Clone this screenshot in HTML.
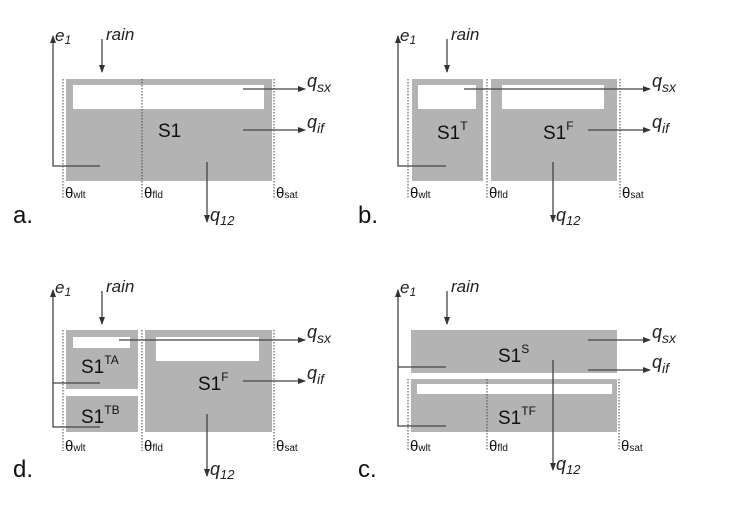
<!DOCTYPE html>
<html><head><meta charset="utf-8"><style>
html,body{margin:0;padding:0;background:#fff;}
svg{display:block;font-family:"Liberation Sans",Arial,sans-serif;}
.g{fill:#b3b3b3}
.w{fill:#fff}
.dot{stroke:#444;stroke-width:1;stroke-dasharray:1.5,1.5}
.ln{stroke:#444;stroke-width:1.3;fill:none}
.it{font-style:italic;fill:#222}
.t{fill:#111}
.th{font-size:15px}
.th tspan{font-size:10px}
</style></head><body>
<svg width="730" height="508" viewBox="0 0 730 508">
<defs><marker id="ah" markerWidth="8" markerHeight="6" refX="7" refY="3" orient="auto" markerUnits="userSpaceOnUse"><path d="M0,0 L8,3 L0,6z" fill="#333"/></marker></defs>

<g>
<rect class="g" x="66" y="79" width="206" height="102"/>
<rect class="w" x="73" y="85" width="191" height="24"/>
<line class="dot" x1="63" y1="79" x2="63" y2="198"/>
<line class="dot" x1="142" y1="79" x2="142" y2="198"/>
<line class="dot" x1="274" y1="79" x2="274" y2="198"/>
<polyline class="ln" points="100,166 53,166 53,36" marker-end="url(#ah)"/>
<line class="ln" x1="102" y1="39" x2="102" y2="72" marker-end="url(#ah)"/>
<line class="ln" x1="243" y1="89" x2="305" y2="89" marker-end="url(#ah)"/>
<line class="ln" x1="243" y1="130" x2="305" y2="130" marker-end="url(#ah)"/>
<line class="ln" x1="207" y1="162" x2="207" y2="222" marker-end="url(#ah)"/>
<text class="it" x="55" y="41" font-size="17">e<tspan font-size="12" dy="3">1</tspan></text>
<text class="it" x="106" y="40" font-size="17">rain</text>
<text class="it" x="307" y="87" font-size="18">q<tspan font-size="14" dy="5">sx</tspan></text>
<text class="it" x="307" y="128" font-size="18">q<tspan font-size="14" dy="5">if</tspan></text>
<text class="it" x="210" y="221" font-size="18">q<tspan font-size="13" dy="4">12</tspan></text>
<text class="t" x="158" y="137" font-size="19">S1</text>
<text class="t th" x="65" y="198">θ<tspan>wlt</tspan></text>
<text class="t th" x="144" y="198">θ<tspan>fld</tspan></text>
<text class="t th" x="276" y="198">θ<tspan>sat</tspan></text>
<text class="t" x="13" y="223" font-size="24">a.</text>
</g>

<g>
<rect class="g" x="412" y="79" width="71" height="102"/>
<rect class="w" x="418" y="85" width="58" height="24"/>
<rect class="g" x="491" y="79" width="126" height="102"/>
<rect class="w" x="502" y="85" width="102" height="24"/>
<line class="dot" x1="408" y1="79" x2="408" y2="198"/>
<line class="dot" x1="487" y1="79" x2="487" y2="198"/>
<line class="dot" x1="620" y1="79" x2="620" y2="198"/>
<polyline class="ln" points="446,166 398,166 398,36" marker-end="url(#ah)"/>
<line class="ln" x1="447" y1="39" x2="447" y2="72" marker-end="url(#ah)"/>
<line class="ln" x1="464" y1="89" x2="650" y2="89" marker-end="url(#ah)"/>
<line class="ln" x1="588" y1="130" x2="650" y2="130" marker-end="url(#ah)"/>
<line class="ln" x1="553" y1="162" x2="553" y2="222" marker-end="url(#ah)"/>
<text class="it" x="400" y="41" font-size="17">e<tspan font-size="12" dy="3">1</tspan></text>
<text class="it" x="451" y="40" font-size="17">rain</text>
<text class="it" x="652" y="87" font-size="18">q<tspan font-size="14" dy="5">sx</tspan></text>
<text class="it" x="652" y="128" font-size="18">q<tspan font-size="14" dy="5">if</tspan></text>
<text class="it" x="556" y="221" font-size="18">q<tspan font-size="13" dy="4">12</tspan></text>
<text class="t" x="437" y="139" font-size="19">S1<tspan font-size="12" dy="-9">T</tspan></text>
<text class="t" x="543" y="139" font-size="19">S1<tspan font-size="12" dy="-9">F</tspan></text>
<text class="t th" x="410" y="198">θ<tspan>wlt</tspan></text>
<text class="t th" x="489" y="198">θ<tspan>fld</tspan></text>
<text class="t th" x="622" y="198">θ<tspan>sat</tspan></text>
<text class="t" x="358" y="223" font-size="24">b.</text>
</g>

<g>
<rect class="g" x="66" y="330" width="72" height="59"/>
<rect class="w" x="73" y="337" width="57" height="11"/>
<rect class="g" x="66" y="396" width="72" height="36"/>
<rect class="g" x="145" y="330" width="127" height="102"/>
<rect class="w" x="156" y="337" width="103" height="24"/>
<line class="dot" x1="63" y1="330" x2="63" y2="451"/>
<line class="dot" x1="142" y1="330" x2="142" y2="451"/>
<line class="dot" x1="274" y1="330" x2="274" y2="451"/>
<polyline class="ln" points="100,427 53,427 53,290" marker-end="url(#ah)"/>
<line class="ln" x1="53" y1="383" x2="100" y2="383"/>
<line class="ln" x1="102" y1="291" x2="102" y2="324" marker-end="url(#ah)"/>
<line class="ln" x1="119" y1="340" x2="305" y2="340" marker-end="url(#ah)"/>
<line class="ln" x1="243" y1="381" x2="305" y2="381" marker-end="url(#ah)"/>
<line class="ln" x1="207" y1="414" x2="207" y2="476" marker-end="url(#ah)"/>
<text class="it" x="55" y="293" font-size="17">e<tspan font-size="12" dy="3">1</tspan></text>
<text class="it" x="106" y="292" font-size="17">rain</text>
<text class="it" x="307" y="338" font-size="18">q<tspan font-size="14" dy="5">sx</tspan></text>
<text class="it" x="307" y="379" font-size="18">q<tspan font-size="14" dy="5">if</tspan></text>
<text class="it" x="210" y="475" font-size="18">q<tspan font-size="13" dy="4">12</tspan></text>
<text class="t" x="81" y="373" font-size="19">S1<tspan font-size="12" dy="-9">TA</tspan></text>
<text class="t" x="81" y="423" font-size="19">S1<tspan font-size="12" dy="-9">TB</tspan></text>
<text class="t" x="198" y="390" font-size="19">S1<tspan font-size="12" dy="-9">F</tspan></text>
<text class="t th" x="65" y="451">θ<tspan>wlt</tspan></text>
<text class="t th" x="144" y="451">θ<tspan>fld</tspan></text>
<text class="t th" x="276" y="451">θ<tspan>sat</tspan></text>
<text class="t" x="13" y="477" font-size="24">d.</text>
</g>

<g>
<rect class="g" x="411" y="330" width="206" height="43"/>
<rect class="g" x="411" y="379" width="206" height="53"/>
<rect class="w" x="417" y="384" width="195" height="10"/>
<line class="dot" x1="408" y1="379" x2="408" y2="451"/>
<line class="dot" x1="487" y1="379" x2="487" y2="451"/>
<line class="dot" x1="619" y1="379" x2="619" y2="451"/>
<polyline class="ln" points="446,426 398,426 398,290" marker-end="url(#ah)"/>
<line class="ln" x1="398" y1="367" x2="446" y2="367"/>
<line class="ln" x1="447" y1="291" x2="447" y2="324" marker-end="url(#ah)"/>
<line class="ln" x1="588" y1="340" x2="650" y2="340" marker-end="url(#ah)"/>
<line class="ln" x1="588" y1="370" x2="650" y2="370" marker-end="url(#ah)"/>
<line class="ln" x1="553" y1="360" x2="553" y2="470" marker-end="url(#ah)"/>
<text class="it" x="400" y="293" font-size="17">e<tspan font-size="12" dy="3">1</tspan></text>
<text class="it" x="451" y="292" font-size="17">rain</text>
<text class="it" x="652" y="338" font-size="18">q<tspan font-size="14" dy="5">sx</tspan></text>
<text class="it" x="652" y="368" font-size="18">q<tspan font-size="14" dy="5">if</tspan></text>
<text class="it" x="556" y="470" font-size="18">q<tspan font-size="13" dy="4">12</tspan></text>
<text class="t" x="498" y="362" font-size="19">S1<tspan font-size="12" dy="-9">S</tspan></text>
<text class="t" x="498" y="424" font-size="19">S1<tspan font-size="12" dy="-9">TF</tspan></text>
<text class="t th" x="410" y="451">θ<tspan>wlt</tspan></text>
<text class="t th" x="489" y="451">θ<tspan>fld</tspan></text>
<text class="t th" x="621" y="451">θ<tspan>sat</tspan></text>
<text class="t" x="358" y="477" font-size="24">c.</text>
</g>
</svg>
</body></html>
